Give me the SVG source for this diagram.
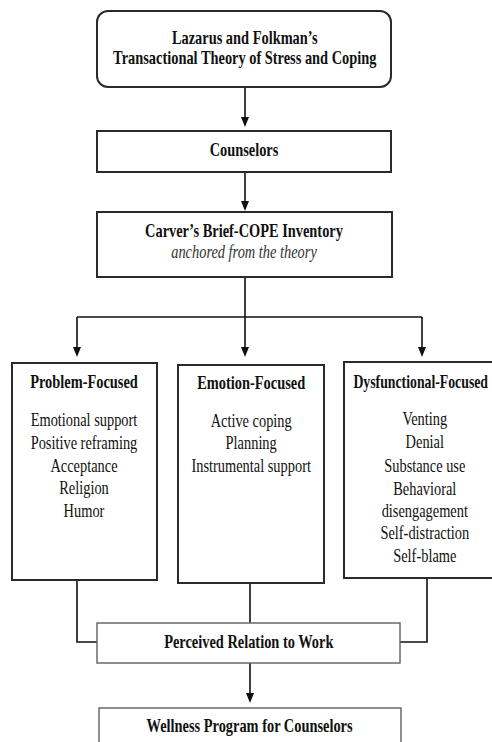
<svg xmlns="http://www.w3.org/2000/svg" width="492" height="742" viewBox="0 0 492 742">
<style>
.box{fill:#fff;stroke:#2a2a2a;stroke-width:2}
.lbox{fill:#fff;stroke:#6a6a6a;stroke-width:1.5}
.ln{fill:none;stroke:#111;stroke-width:1.6}
text{font-family:"Liberation Serif","Times New Roman",serif;font-size:18px;fill:#111;text-anchor:middle}
.b{font-weight:bold}
.i{font-style:italic;fill:#333}
.ah{fill:#111}
</style>
<rect width="492" height="742" fill="#fff"/>
<g id="connectors">
<path class="ln" d="M245,87 V118"/>
<path class="ah" d="M241,117 L249,117 L245,127 Z"/>
<path class="ln" d="M245,172 V202"/>
<path class="ah" d="M241,201 L249,201 L245,211 Z"/>
<path class="ln" d="M245,277 V317 M77,317 H422 M77,317 V348 M245,317 V348 M422,317 V348"/>
<path class="ah" d="M73,347 L81,347 L77,357 Z M241,347 L249,347 L245,357 Z M418,347 L426,347 L422,357 Z"/>
<path class="ln" d="M77,580 V642 H97 M250,583 V623 M427,578 V642 H400"/>
<path class="ln" d="M250,663 V694"/>
<path class="ah" d="M246,693 L254,693 L250,703 Z"/>
</g>
<g id="theory">
<rect class="box" x="97" y="11" width="294" height="76" rx="11"/>
<g transform="scale(0.8,1)"><text class="b" x="306" y="44">Lazarus and Folkman’s</text><text class="b" x="306" y="64">Transactional Theory of Stress and Coping</text></g>
</g>
<g id="counselors">
<rect class="box" x="97" y="131" width="294" height="41"/>
<g transform="scale(0.8,1)"><text class="b" x="305" y="156">Counselors</text></g>
</g>
<g id="carver">
<rect class="box" x="97" y="212" width="295" height="65"/>
<g transform="scale(0.8,1)"><text class="b" x="305" y="237">Carver’s Brief-COPE Inventory</text><text class="i" x="305" y="258">anchored from the theory</text></g>
</g>
<g id="problem">
<rect class="box" x="12" y="363" width="145" height="217"/>
<g transform="scale(0.8,1)"><text class="b" x="105" y="388">Problem-Focused</text>
<text x="105" y="426">Emotional support</text><text x="105" y="449">Positive reframing</text><text x="105" y="472">Acceptance</text><text x="105" y="494">Religion</text><text x="105" y="517">Humor</text></g>
</g>
<g id="emotion">
<rect class="box" x="178" y="365" width="146" height="218"/>
<g transform="scale(0.8,1)"><text class="b" x="314" y="389">Emotion-Focused</text>
<text x="314" y="427">Active coping</text><text x="314" y="449">Planning</text><text x="314" y="472">Instrumental support</text></g>
</g>
<g id="dysfunctional">
<rect class="box" x="344" y="362" width="160" height="216"/>
<g transform="scale(0.765,1)"><text class="b" x="462" y="388" style="text-anchor:start">Dysfunctional-Focused</text></g>
<g transform="scale(0.8,1)">
<text x="531" y="425">Venting</text><text x="531" y="448">Denial</text><text x="531" y="472">Substance use</text><text x="531" y="495">Behavioral</text><text x="531" y="517">disengagement</text><text x="531" y="539">Self-distraction</text><text x="531" y="562">Self-blame</text></g>
</g>
<g id="perceived">
<rect class="lbox" x="97" y="623" width="303" height="40"/>
<g transform="scale(0.8,1)"><text class="b" x="311" y="648">Perceived Relation to Work</text></g>
</g>
<g id="wellness">
<rect class="lbox" x="99" y="708" width="302" height="50"/>
<g transform="scale(0.8,1)"><text class="b" x="312" y="732">Wellness Program for Counselors</text></g>
</g>
</svg>
